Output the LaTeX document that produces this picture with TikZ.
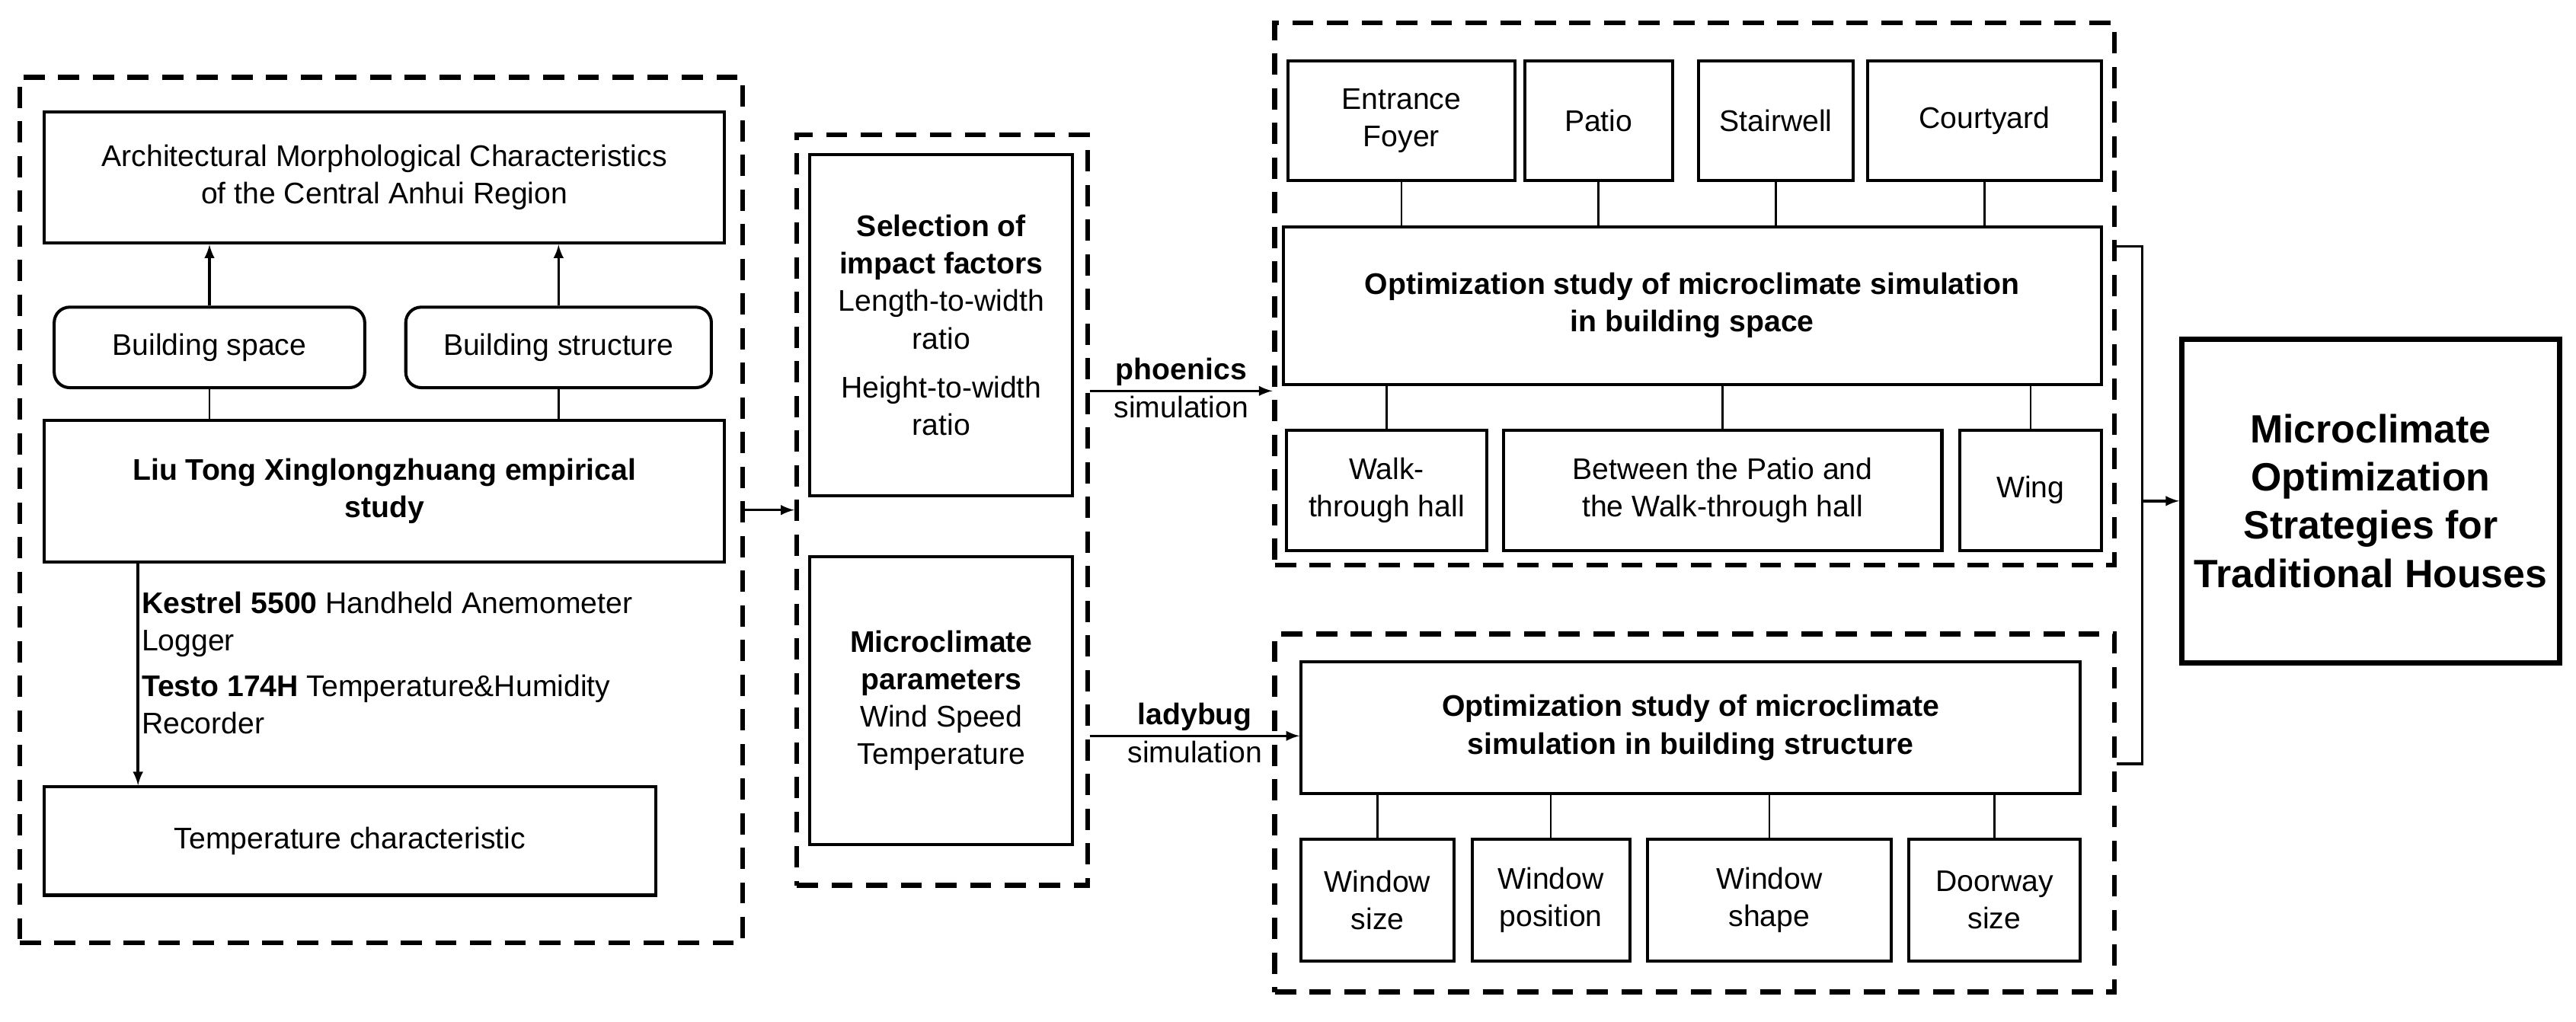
\documentclass[tikz,border=0pt]{standalone}
\usepackage{fontspec}
\setmainfont{Liberation Sans}
\usetikzlibrary{arrows}
\begin{document}
\begin{tikzpicture}[x={(0.03cm,0)},y={(0,-0.03cm)},
  font=\fontsize{15.5}{19.5}\selectfont,
  box/.style={draw,line width=1.6pt,inner sep=2pt,align=center},
  rbox/.style={box,rounded corners=8pt},
  group/.style={draw,line width=2.6pt,dash pattern=on 11pt off 7pt},
  link/.style={line width=1pt},
  flow/.style={line width=1.4pt,-latex}]
\useasboundingbox (0,0) rectangle (1568,622);
% groups
\node [group,minimum width=13.2cm,minimum height=15.81cm] (left) at (232,310.5) {};
\node [group,minimum width=5.31cm,minimum height=13.71cm] (mid) at (573.5,310.5) {};
\node [group,minimum width=15.33cm,minimum height=9.9cm] (top) at (1031.5,179) {};
\node [group,minimum width=15.33cm,minimum height=6.54cm] (bottom) at (1031.5,495) {};
% left column
\node [box,minimum width=12.42cm,minimum height=2.4cm] (arch) at (234,108) {Architectural Morphological Characteristics\\of the Central Anhui Region};
\node [rbox,minimum width=5.67cm,minimum height=1.47cm] (bspace) at (127.5,211.5) {Building space};
\node [rbox,minimum width=5.58cm,minimum height=1.47cm] (bstruct) at (340,211.5) {Building structure};
\node [box,minimum width=12.42cm,minimum height=2.58cm] (liu) at (234,299) {\textbf{Liu Tong Xinglongzhuang empirical}\\\textbf{study}};
\node [box,minimum width=11.16cm,minimum height=1.98cm] (temp) at (213,512) {Temperature characteristic};
\node [align=left,anchor=north west,inner sep=0pt] (tools) at (86,360) {\textbf{Kestrel 5500} Handheld Anemometer\\Logger\\[4pt]\textbf{Testo 174H} Temperature\&Humidity\\Recorder};
\draw [flow] (bspace.north) -- (bspace.north |- arch.south);
\draw [flow] (bstruct.north) -- (bstruct.north |- arch.south);
\draw [link] (bspace.south) -- (bspace.south |- liu.north);
\draw [link] (bstruct.south) -- (bstruct.south |- liu.north);
\draw [flow] (liu.south -| 84,0) -- (temp.north -| 84,0);
% middle column
\node [box,minimum width=4.8cm,minimum height=6.24cm] (select) at (573,198) {\textbf{Selection of}\\\textbf{impact factors}\\Length-to-width\\ratio\\[6pt]Height-to-width\\ratio};
\node [box,minimum width=4.8cm,minimum height=5.25cm] (param) at (573,426.5) {\textbf{Microclimate}\\\textbf{parameters}\\Wind Speed\\Temperature};
\draw [flow] (left.east) -- (mid.west);
% building space
\node [box,minimum width=4.14cm,minimum height=2.19cm] (foyer) at (853,73.5) {Entrance\\Foyer};
\node [box,minimum width=2.7cm,minimum height=2.19cm] (patio) at (973,73.5) {Patio};
\node [box,minimum width=2.82cm,minimum height=2.19cm] (stair) at (1081,73.5) {Stairwell};
\node [box,minimum width=4.26cm,minimum height=2.19cm] (court) at (1208,73.5) {Courtyard};
\node [box,minimum width=14.94cm,minimum height=2.88cm] (space) at (1030,186) {\textbf{Optimization study of microclimate simulation}\\\textbf{in building space}};
\node [box,minimum width=3.66cm,minimum height=2.19cm] (walk) at (844,298.5) {Walk-\\through hall};
\node [box,minimum width=8.01cm,minimum height=2.19cm] (between) at (1048.5,298.5) {Between the Patio and\\the Walk-through hall};
\node [box,minimum width=2.58cm,minimum height=2.19cm] (wing) at (1236,298.5) {Wing};
\foreach \n in {foyer,patio,stair,court}
  \draw [link] (\n.south) -- (\n.south |- space.north);
\foreach \n in {walk,between,wing}
  \draw [link] (\n.north) -- (\n.north |- space.south);
% building structure
\node [box,minimum width=14.22cm,minimum height=2.4cm] (struct) at (1029,443) {\textbf{Optimization study of microclimate}\\\textbf{simulation in building structure}};
\node [box,minimum width=2.79cm,minimum height=2.22cm] (wsize) at (838.5,548) {Window\\size};
\node [box,minimum width=2.88cm,minimum height=2.22cm] (wpos) at (944,548) {Window\\position};
\node [box,minimum width=4.44cm,minimum height=2.22cm] (wshape) at (1077,548) {Window\\shape};
\node [box,minimum width=3.12cm,minimum height=2.22cm] (door) at (1214,548) {Doorway\\size};
\foreach \n in {wsize,wpos,wshape,door}
  \draw [link] (\n.north) -- (\n.north |- struct.south);
% simulations
\draw [flow] (mid.east |- 0,238) -- node [above,inner sep=2pt] {\textbf{phoenics}} node [below,inner sep=2pt] {simulation} (top.west |- 0,238);
\draw [flow] (mid.east |- 0,448) -- node [above,inner sep=2pt] {\textbf{ladybug}} node [below,inner sep=2pt] {simulation} (struct.west |- 0,448);
% result
\node [box,line width=2.6pt,minimum width=6.9cm,minimum height=5.91cm,font=\fontsize{20.5}{25}\selectfont\bfseries] (final) at (1443,305) {Microclimate\\Optimization\\Strategies for\\Traditional Houses};
\coordinate (join) at (1304,305);
\draw [link,line width=1.4pt] (top.east |- 0,150) -| (join) |- (bottom.east |- 0,465);
\draw [flow] (join) -- (final.west);
\end{tikzpicture}
\end{document}
